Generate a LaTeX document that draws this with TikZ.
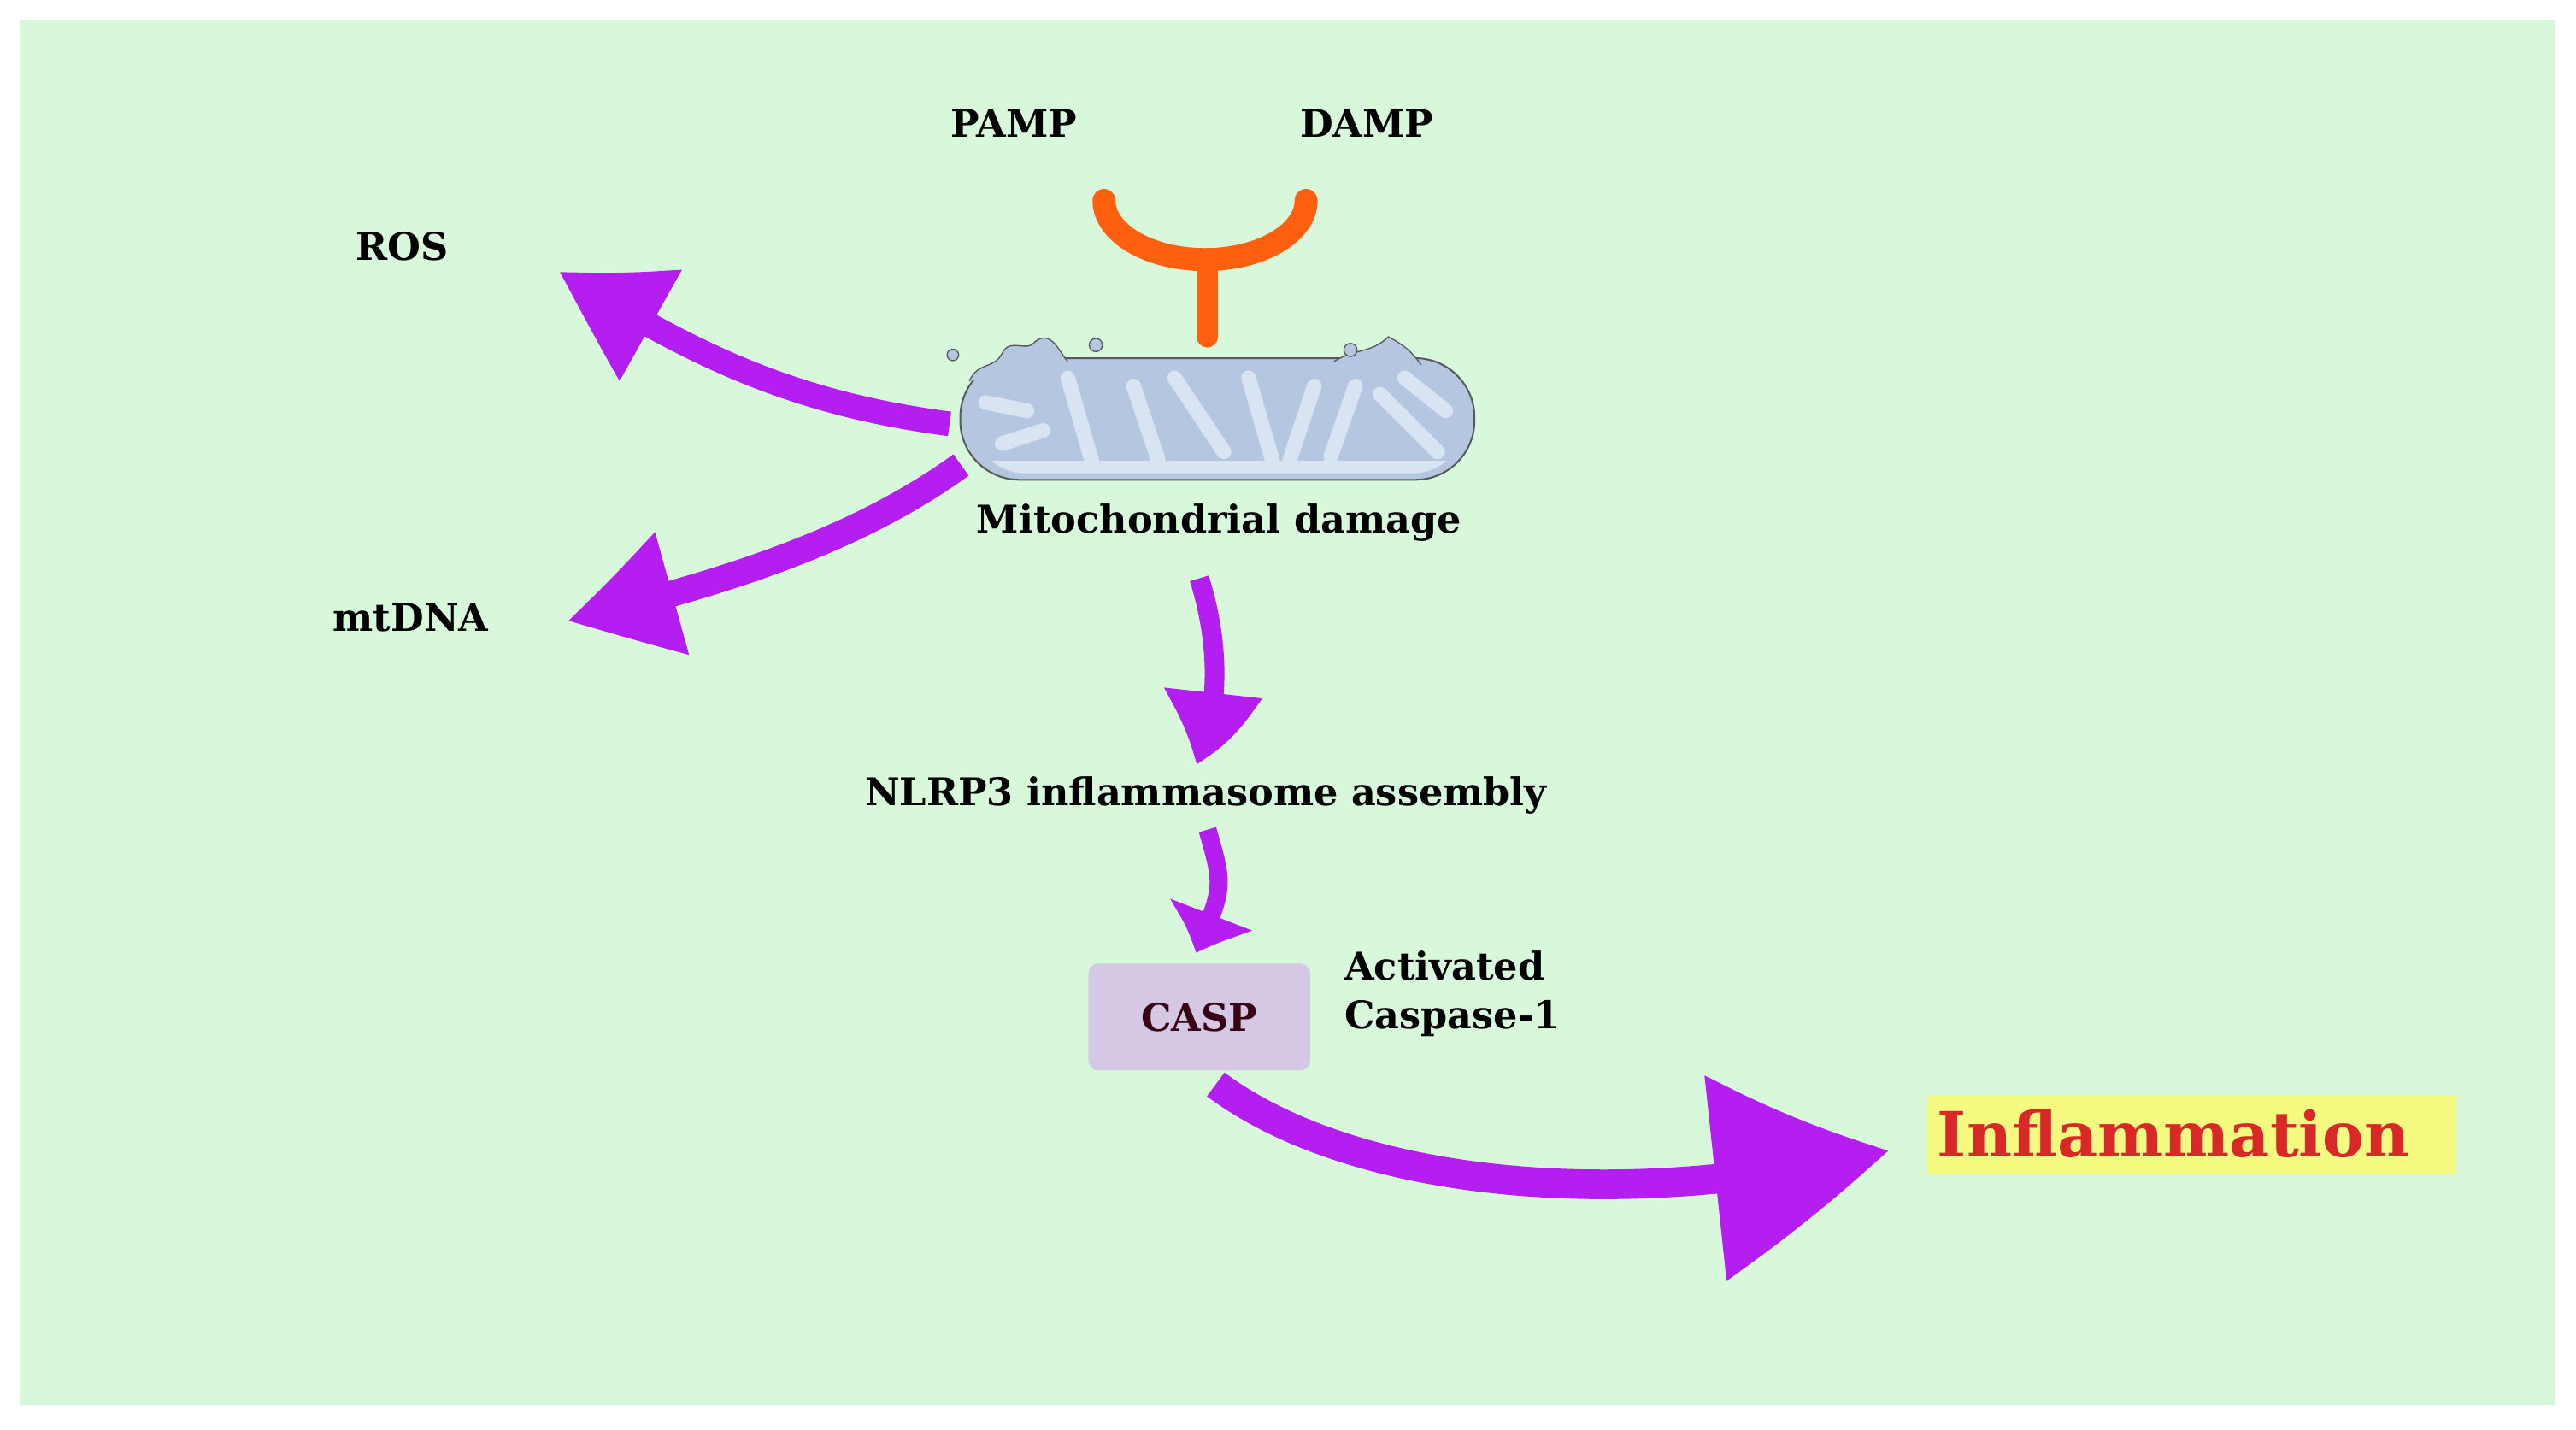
\documentclass[tikz,border=0pt]{standalone}
\usepackage{fontspec}
\setmainfont{DejaVu Serif}
\usetikzlibrary{arrows.meta,bending}
\definecolor{bg}{HTML}{D8F8DC}
\definecolor{purp}{HTML}{B41EF0}
\definecolor{orng}{HTML}{FF6010}
\definecolor{mito}{HTML}{B4C6E0}
\definecolor{cris}{HTML}{D8E4F2}
\definecolor{casp}{HTML}{D4C8E4}
\definecolor{infl}{HTML}{F5FA80}
\definecolor{ired}{HTML}{D82828}
\begin{document}
\begin{tikzpicture}[x=0.05cm,y=-0.05cm,
  lbl/.style={font=\fontsize{33}{42}\selectfont\bfseries},
  fat/.style={purp,line width=#1},
  big/.style={-{Triangle[width=3.6cm,length=3.4cm,bend]}}]
\useasboundingbox (0,0) rectangle (1568,870);
\fill[white] (0,0) rectangle (1568,870);
\fill[bg] (12,12) rectangle (1555,855);
% labels
\node[lbl] (pamp) at (617,75) {PAMP};
\node[lbl] (damp) at (832,75) {DAMP};
\node[lbl] (ros) at (245,150) {ROS};
\node[lbl] (mtdna) at (250,376) {mtDNA};
\node[lbl] (md) at (742,318) {Mitochondrial damage};
\node[lbl] (nlrp) at (734,484) {NLRP3 inflammasome assembly};
\node[lbl,align=left,anchor=west] (act) at (816,605) {Activated\\Caspase-1};
% receptor
\draw[orng,line width=0.7cm,line cap=round] (672,122) arc[start angle=180,end angle=0,x radius=61.5,y radius=36];
\draw[orng,line width=0.65cm,line cap=round] (735,158) -- (735,205);
% mitochondrion
\node[draw=gray!70!black,line width=1.5pt,fill=mito,rounded corners=1.8cm,minimum width=313*0.05cm,minimum height=74*0.05cm] (mit) at (741,255) {};
\begin{scope}
\clip[rounded corners=1.6cm] (592,225) rectangle (892,288);
\draw[cris,line width=0.45cm,line cap=round]
  (600,245) -- (625,250) (610,270) -- (635,262)
  (650,230) -- (665,282) (690,235) -- (705,280)
  (715,230) -- (745,275) (760,230) -- (775,282)
  (800,235) -- (785,280) (825,235) -- (810,278)
  (840,240) -- (875,275) (855,230) -- (880,250)
  (600,285) -- (880,285);
\end{scope}
\draw[gray!70!black,line width=1pt,fill=mito]
  (590,232) .. controls (595,220) and (605,225) .. (610,215) .. controls (615,205) and (625,215) .. (630,208) .. controls (640,200) and (645,215) .. (650,220)
  (812,220) .. controls (825,212) and (835,215) .. (845,205) .. controls (855,210) and (860,215) .. (865,222);
\draw[gray!70!black,line width=1pt,fill=mito] (580,216) circle (3.5) (667,210) circle (4) (822,213) circle (4);
% arrows
\draw[fat=0.75cm,big] (578,258) .. controls (480,245) and (420,215) .. (340,165);
\draw[fat=0.8cm,big] (585,283) .. controls (520,330) and (440,355) .. (345,378);
\draw[fat=0.6cm,-{Triangle[width=3cm,length=2cm,bend]}] (730,352) .. controls (745,400) and (740,440) .. (728,465);
\draw[fat=0.55cm,-{Triangle[width=2.4cm,length=1.4cm,bend]}] (735,505) .. controls (745,540) .. (728,580);
\draw[fat=0.9cm,-{Triangle[width=6cm,length=5.5cm,bend]}] (740,660) .. controls (820,720) and (980,740) .. (1150,700);
% casp
\node[fill=casp,rounded corners=0.3cm,minimum width=135*0.05cm,minimum height=65*0.05cm,
  font=\fontsize{33}{40}\selectfont\bfseries,text=black!70!purple] (cas) at (730,619) {CASP};
% inflammation
\node[fill=infl,minimum width=322*0.05cm,minimum height=48*0.05cm,inner sep=0pt] (inf) at (1334,691) {};
\node[font=\fontsize{54}{64}\selectfont\bfseries,text=ired] (inftxt) at (1323,690) {Inflammation};
\end{tikzpicture}
\end{document}
